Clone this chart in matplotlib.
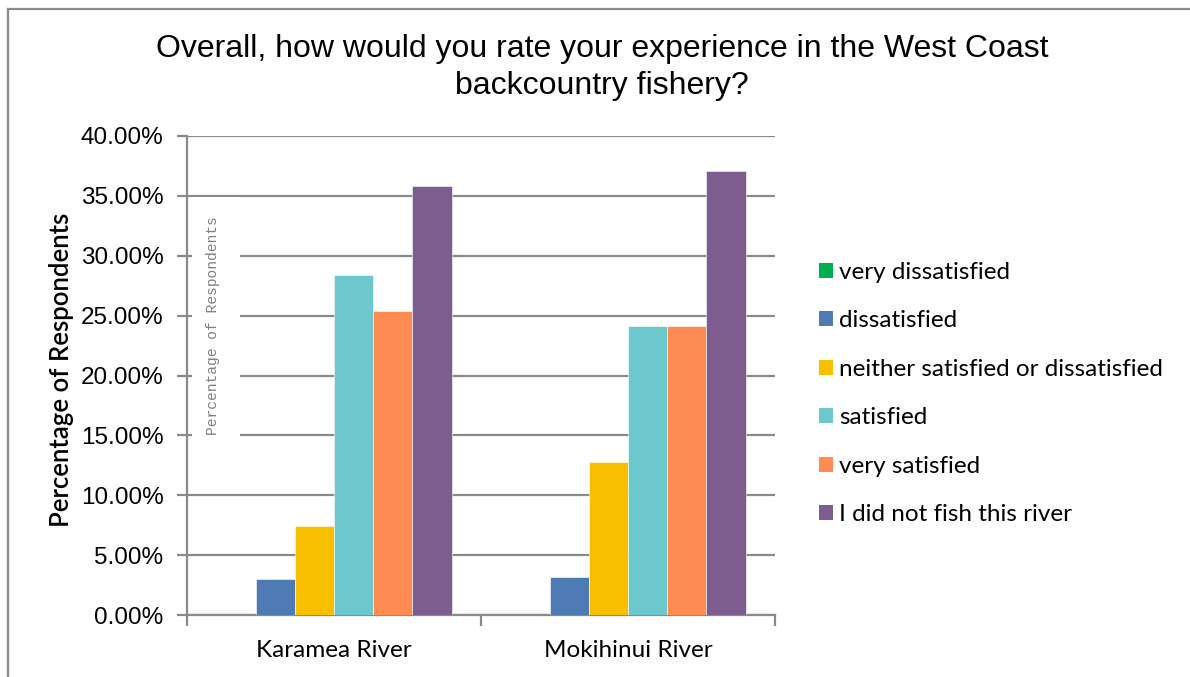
import matplotlib
matplotlib.use("Agg")
import matplotlib.pyplot as plt
from matplotlib.patches import Patch, Rectangle
from matplotlib.lines import Line2D
from matplotlib.ticker import FixedLocator, FuncFormatter
import numpy as np

rivers = ["Karamea River", "Mokihinui River"]
responses = ["very dissatisfied", "dissatisfied",
             "neither satisfied or dissatisfied", "satisfied",
             "very satisfied", "I did not fish this river"]
very_dissatisfied = [0.0, 0.0]
dissatisfied = [2.99, 3.17]
neither = [7.46, 12.80]
satisfied = [28.36, 24.14]
very_satisfied = [25.37, 24.14]
did_not_fish = [35.82, 37.07]
colors = ["#00B050", "#4F7BB5", "#F8BE00", "#6CC8CC", "#FE8B52", "#7D5D8F"]

series = [very_dissatisfied, dissatisfied, neither, satisfied,
          very_satisfied, did_not_fish]

grey = "#8a8a8a"
W, H = 1190, 677
fig = plt.figure(figsize=(W / 100, H / 100), dpi=100)
ax = fig.add_axes([187 / W, 1 - 615 / H, 588 / W, 479 / H])

x = np.arange(len(rivers))
width = 0.8 / len(series)
for i, (vals, col) in enumerate(zip(series, colors)):
    ax.bar(x + (i - 2.5) * width, vals, width, color=col,
           edgecolor="white", linewidth=0.4, zorder=3)

ax.set_xlim(-0.5, 1.5)
ax.set_ylim(0, 40)
ax.yaxis.set_major_locator(FixedLocator(np.arange(0, 40.1, 5)))
ax.yaxis.set_major_formatter(FuncFormatter(lambda v, p: "{:.2f}%".format(v)))
ax.yaxis.grid(True, color=grey, linewidth=1.6)
ax.set_axisbelow(True)

ax.set_xticks(x)
ax.set_xticklabels(rivers, family="Lato", fontsize=17.5)
ax.set_xticks([-0.5, 0.5, 1.5], minor=True)
ax.tick_params(axis="x", which="major", length=0, pad=18)
ax.tick_params(axis="x", which="minor", length=8, width=1.6,
               color=grey, direction="out")
ax.tick_params(axis="y", length=7, width=1.6, color=grey, pad=10,
               labelsize=17.5)
for lab in ax.get_yticklabels():
    lab.set_family("Liberation Sans")

for s in ["top", "right"]:
    ax.spines[s].set_visible(False)
for s in ["left", "bottom"]:
    ax.spines[s].set_color(grey)
    ax.spines[s].set_linewidth(1.6)

# stray label box sitting inside the plot area
ax.add_patch(Rectangle((0.0085, 0.365), 0.0816, 0.508, transform=ax.transAxes,
                       facecolor="white", edgecolor="none", zorder=2))
ax.text(0.044, 0.605, "Percentage of Respondents", transform=ax.transAxes,
        rotation=90, ha="center", va="center", family="Liberation Mono",
        fontsize=10.5, color="#7f7f7f", zorder=2.5)

fig.text(62 / W, 1 - 370 / H, "Percentage of Respondents", rotation=90,
         ha="center", va="center", family="Lato", fontweight="semibold",
         fontsize=18.5)

fig.text(602 / W, 1 - 67.5 / H,
         "Overall, how would you rate your experience in the West Coast\n"
         "backcountry fishery?",
         ha="center", va="center", family="Liberation Sans", fontsize=23,
         linespacing=1.33)

handles = [Patch(facecolor=c, edgecolor="none") for c in colors]
fig.legend(handles, responses, loc="center left",
           bbox_to_anchor=(809 / W, 1 - 393.5 / H), frameon=False,
           prop={"family": "Lato", "size": 17.5}, handlelength=0.58,
           handleheight=0.58, handletextpad=0.25, labelspacing=1.13,
           borderaxespad=0)

# outer chart frame (top and left edges only)
fig.add_artist(Line2D([8 / W, 8 / W], [0, 1 - 9 / H], color=grey,
                      linewidth=1.6, transform=fig.transFigure))
fig.add_artist(Line2D([8 / W, 1], [1 - 9 / H, 1 - 9 / H], color=grey,
                      linewidth=1.6, transform=fig.transFigure))

fig.savefig("out.png", dpi=100)
